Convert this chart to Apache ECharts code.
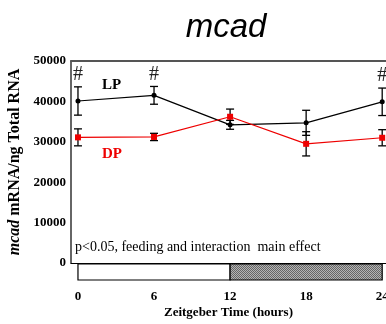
<!DOCTYPE html>
<html><head><meta charset="utf-8">
<script src="https://cdn.jsdelivr.net/npm/echarts@6/dist/echarts.min.js"></script>
<style>html,body{margin:0;padding:0;background:#fff}#c{width:386px;height:324px}</style>
</head><body><div id="c"></div>
<script>
var hours = [0, 6, 12, 18, 24];
var lpMean = [40100, 41500, 34200, 34700, 39900];
var lpErr = [3500, 2200, 1100, 3100, 3400];
var dpMean = [31100, 31200, 36200, 29500, 31000];
var dpErr = [2100, 900, 1900, 3000, 2000];
var hashHours = [0, 6, 24];
var xTicks = [0, 6, 12, 18, 24];
var yTicks = [0, 10000, 20000, 30000, 40000, 50000];
var phases = [[0, 12, 'light'], [12, 24, 'dark']];

var serif = '"Liberation Serif", "Times New Roman", serif';
var pat = document.createElement('canvas');
pat.width = 2; pat.height = 2;
var pc = pat.getContext('2d');
pc.fillStyle = '#b4b4b4'; pc.fillRect(0, 0, 2, 2);
pc.fillStyle = '#666'; pc.fillRect(0, 0, 1, 1); pc.fillRect(1, 1, 1, 1);

function errData(m, e) { return hours.map(function (h, i) { return [h, m[i] - e[i], m[i] + e[i]]; }); }
function errRender(color) {
  return function (params, api) {
    var x = api.value(0);
    var lo = api.coord([x, api.value(1)]);
    var hi = api.coord([x, api.value(2)]);
    var w = 4;
    var st = { stroke: color, lineWidth: 1.3 };
    return { type: 'group', children: [
      { type: 'line', shape: { x1: lo[0], y1: lo[1], x2: hi[0], y2: hi[1] }, style: st },
      { type: 'line', shape: { x1: lo[0] - w, y1: lo[1], x2: lo[0] + w, y2: lo[1] }, style: st },
      { type: 'line', shape: { x1: hi[0] - w, y1: hi[1], x2: hi[0] + w, y2: hi[1] }, style: st }
    ]};
  };
}
var hashData = hashHours.map(function (h) { var i = hours.indexOf(h); return [h, lpMean[i] + lpErr[i]]; });

var chart = echarts.init(document.getElementById('c'));
chart.setOption({
  animation: false,
  title: { text: 'mcad', left: 221, textAlign: 'center', top: 6,
    textStyle: { fontFamily: '"Liberation Sans", Arial, sans-serif', fontStyle: 'italic', fontWeight: 'normal', fontSize: 33, color: '#000' } },
  grid: [
    { left: 71, right: 0, top: 61, height: 202, containLabel: false, outerBoundsMode: 'none' },
    { left: 71, right: 0, top: 264, height: 16, containLabel: false, outerBoundsMode: 'none' }
  ],
  xAxis: [
    { gridIndex: 0, type: 'value', min: -0.55, max: 24.3, position: 'bottom',
      axisLine: { show: true, onZero: false, lineStyle: { color: '#000', width: 1.2 } },
      axisTick: { show: false }, axisLabel: { show: false }, splitLine: { show: false } },
    { gridIndex: 0, type: 'value', min: -0.55, max: 24.3, position: 'top',
      axisLine: { show: true, onZero: false, lineStyle: { color: '#555', width: 2 } },
      axisTick: { show: false }, axisLabel: { show: false }, splitLine: { show: false } },
    { gridIndex: 1, type: 'value', min: -0.55, max: 24.3, position: 'bottom',
      axisLine: { show: false }, axisTick: { show: false }, splitLine: { show: false },
      axisLabel: { show: true, margin: 10, fontFamily: serif, fontWeight: 'bold', fontSize: 13, color: '#000',
        customValues: xTicks, formatter: function (v) { return String(v); } },
      name: 'Zeitgeber Time (hours)', nameLocation: 'middle', nameGap: 26,
      nameTextStyle: { fontFamily: serif, fontWeight: 'bold', fontSize: 13, color: '#000' } }
  ],
  yAxis: [
    { gridIndex: 0, type: 'value', min: 0, max: 50000, interval: 10000,
      axisLine: { show: true, onZero: false, lineStyle: { color: '#333', width: 1.5 } }, axisTick: { show: false }, splitLine: { show: false },
      axisLabel: { margin: 5, fontFamily: serif, fontWeight: 'bold', fontSize: 13, color: '#000',
        formatter: function (v) { return yTicks.indexOf(v) >= 0 ? String(v) : ''; } },
      name: '{i|mcad} mRNA/ng Total RNA', nameLocation: 'middle', nameGap: 45,
      nameTextStyle: { fontFamily: serif, fontWeight: 'bold', fontSize: 16, color: '#000',
        rich: { i: { fontFamily: serif, fontStyle: 'italic', fontWeight: 'bold', fontSize: 16, color: '#000' } } } },
    { gridIndex: 1, type: 'value', min: 0, max: 1, show: false }
  ],
  series: [
    { type: 'custom', xAxisIndex: 0, yAxisIndex: 0, data: errData(lpMean, lpErr), renderItem: errRender('#000'), z: 3 },
    { type: 'custom', xAxisIndex: 0, yAxisIndex: 0, data: errData(dpMean, dpErr), renderItem: errRender('#000'), z: 3 },
    { type: 'line', xAxisIndex: 0, yAxisIndex: 0, data: hours.map(function (h, i) { return [h, lpMean[i]]; }),
      symbol: 'circle', symbolSize: 5, lineStyle: { color: '#000', width: 1.2 }, itemStyle: { color: '#000' }, z: 4 },
    { type: 'line', xAxisIndex: 0, yAxisIndex: 0, data: hours.map(function (h, i) { return [h, dpMean[i]]; }),
      symbol: 'rect', symbolSize: 6, lineStyle: { color: '#e00', width: 1.2 }, itemStyle: { color: '#e00' }, z: 4 },
    { type: 'custom', xAxisIndex: 0, yAxisIndex: 0, data: hashData, z: 5,
      renderItem: function (params, api) {
        var p = api.coord([api.value(0), api.value(1)]);
        return { type: 'text', x: p[0], y: p[1] - 12, style: { text: '#', fill: '#222', font: '20px ' + serif, align: 'center', verticalAlign: 'middle' } };
      } },
    { type: 'custom', xAxisIndex: 2, yAxisIndex: 1, data: phases, z: 2,
      renderItem: function (params, api) {
        var a = api.coord([api.value(0), 1]);
        var b = api.coord([api.value(1), 0]);
        var dark = params.dataIndex === 1;
        return { type: 'rect', shape: { x: a[0], y: a[1], width: b[0] - a[0], height: b[1] - a[1] },
          style: { fill: dark ? { image: pat, repeat: 'repeat' } : '#fff', stroke: '#000', lineWidth: 1.2 } };
      } }
  ],
  graphic: [
    { type: 'text', left: 102, top: 78, style: { text: 'LP', font: 'bold 15px ' + serif, fill: '#000' } },
    { type: 'text', left: 102, top: 147, style: { text: 'DP', font: 'bold 15px ' + serif, fill: '#e00' } },
    { type: 'text', left: 75, top: 240, style: { text: 'p<0.05, feeding and interaction  main effect', font: '14px ' + serif, fill: '#000' } }
  ]
});
</script></body></html>
